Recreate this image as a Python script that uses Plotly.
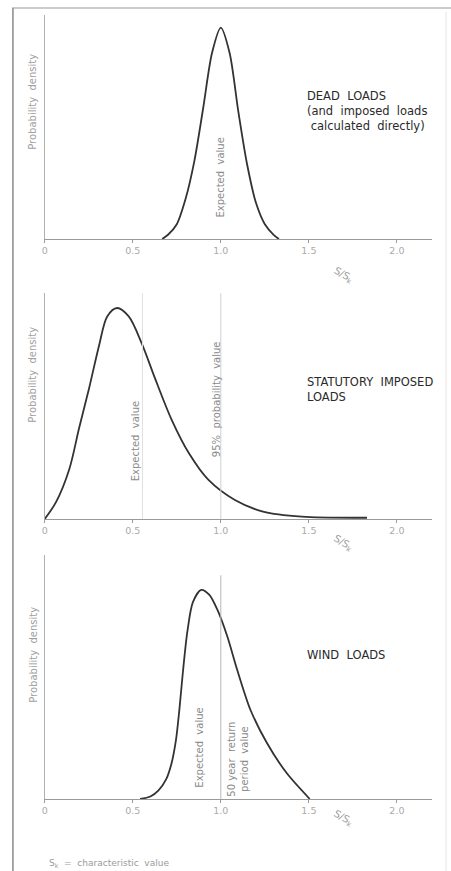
import plotly.graph_objects as go

W, H = 451, 871

# ---- data (relative probability density, peak = 1) ----
dead_x = [0.667, 0.70, 0.75, 0.80, 0.85, 0.90, 0.95, 1.00, 1.05, 1.10, 1.15, 1.20, 1.25, 1.30, 1.33]
dead_y = [0.0, 0.02, 0.07, 0.19, 0.37, 0.62, 0.88, 1.00, 0.88, 0.60, 0.35, 0.17, 0.07, 0.02, 0.0]

stat_x = [0.0, 0.064, 0.139, 0.195, 0.252, 0.308, 0.355, 0.411, 0.477, 0.552, 0.627, 0.721,
          0.82, 0.93, 1.08, 1.24, 1.46, 1.83]
stat_y = [0.0, 0.08, 0.235, 0.43, 0.62, 0.82, 0.96, 1.00, 0.96, 0.83, 0.665, 0.47,
          0.31, 0.185, 0.09, 0.035, 0.011, 0.006]

wind_x = [0.542, 0.600, 0.645, 0.690, 0.720, 0.745, 0.765, 0.785, 0.810, 0.841, 0.888, 0.935,
          0.981, 1.037, 1.093, 1.168, 1.262, 1.374, 1.505]
wind_y = [0.0, 0.012, 0.040, 0.095, 0.17, 0.28, 0.43, 0.61, 0.80, 0.94, 1.00, 0.976,
          0.904, 0.777, 0.618, 0.427, 0.268, 0.124, 0.0]

tick_vals = [0, 0.5, 1.0, 1.5, 2.0]
tick_text = ["0", "0.5", "1.0", "1.5", "2.0"]

panel_titles = ["DEAD  LOADS<br>(and  imposed  loads<br> calculated  directly)",
                "STATUTORY  IMPOSED<br>LOADS",
                "WIND  LOADS"]

# ---- layout helpers (pixels -> paper) ----
def px(x):
    return x / W

def py(y):
    return 1 - y / H

GRAY = "#9a9a9a"
DARK = "#333333"
FONT = "DejaVu Sans"

fig = go.Figure()
fig.add_trace(go.Scatter(x=dead_x, y=dead_y, mode="lines", xaxis="x", yaxis="y",
                         line=dict(color=DARK, width=1.8, shape="spline", smoothing=0.8)))
fig.add_trace(go.Scatter(x=stat_x, y=stat_y, mode="lines", xaxis="x2", yaxis="y2",
                         line=dict(color=DARK, width=1.8, shape="spline", smoothing=0.9)))
fig.add_trace(go.Scatter(x=wind_x, y=wind_y, mode="lines", xaxis="x3", yaxis="y3",
                         line=dict(color=DARK, width=1.8, shape="spline", smoothing=0.8)))

# panels: (baseline px, top px, y max)
panels = [(239, 15, 1.06), (519, 293, 1.071), (799, 555, 1.167)]
xdom = [px(42), px(432)]

layout = dict(width=W, height=H, margin=dict(l=0, r=0, t=0, b=0),
              paper_bgcolor="white", plot_bgcolor="white", showlegend=False)
for i, (base, top, ymax) in enumerate(panels):
    s = "" if i == 0 else str(i + 1)
    layout["xaxis" + s] = dict(domain=xdom, range=[0, 2.2], anchor="y" + s,
                               showline=True, linecolor=GRAY, linewidth=1,
                               ticks="outside", ticklen=3, tickcolor=GRAY,
                               tickvals=tick_vals, ticktext=tick_text,
                               tickfont=dict(size=9.5, color="#aaaaaa", family=FONT),
                               showgrid=False, zeroline=False, fixedrange=True)
    layout["yaxis" + s] = dict(domain=[py(base), py(top)], range=[0, ymax], anchor="x" + s,
                               showline=True, linecolor="#b0b0b0", linewidth=1,
                               showticklabels=False, ticks="", showgrid=False,
                               zeroline=False, fixedrange=True)
fig.update_layout(**layout)

shapes = []
# frame of the scanned page
shapes.append(dict(type="line", xref="paper", yref="paper", x0=px(10), x1=px(10),
                   y0=py(8), y1=py(871), line=dict(color="#8a8a8a", width=1.5)))
shapes.append(dict(type="line", xref="paper", yref="paper", x0=px(9), x1=px(451),
                   y0=py(8), y1=py(8), line=dict(color="#9a9a9a", width=1.2)))
shapes.append(dict(type="line", xref="paper", yref="paper", x0=px(446), x1=px(446),
                   y0=py(12), y1=py(871), line=dict(color="#e4e4e4", width=1)))
# reference lines
shapes.append(dict(type="line", xref="x2", yref="y2", x0=0.555, x1=0.555, y0=0, y1=1.07,
                   line=dict(color="#e0e0e0", width=1)))
shapes.append(dict(type="line", xref="x2", yref="y2", x0=1.0, x1=1.0, y0=0, y1=1.07,
                   line=dict(color="#d0d0d0", width=1)))
shapes.append(dict(type="line", xref="x3", yref="y3", x0=1.0, x1=1.0, y0=0, y1=1.07,
                   line=dict(color="#b8b8b8", width=1)))
fig.update_layout(shapes=shapes)

ann = []
def vtext(text, x, y, xref, yref, size=10, color="#8a8a8a"):
    ann.append(dict(text=text, x=x, y=y, xref=xref, yref=yref, showarrow=False,
                    textangle=-90, font=dict(size=size, color=color, family=FONT),
                    xanchor="center", yanchor="middle"))

# y-axis titles
vtext("Probability  density", px(30), py(102), "paper", "paper", size=10, color="#a0a0a0")
vtext("Probability  density", px(30), py(375), "paper", "paper", size=10, color="#a0a0a0")
vtext("Probability  density", px(30), py(655), "paper", "paper", size=10, color="#a0a0a0")

# reference-value labels
vtext("Expected  value", 1.0, 0.29, "x", "y")
vtext("Expected  value", 0.52, 0.37, "x2", "y2")
vtext("95%  probability  value", 0.975, 0.57, "x2", "y2")
vtext("Expected  value", 0.88, 0.244, "x3", "y3")
vtext("50 year  return<br>period  value", 1.10, 0.19, "x3", "y3")

# panel titles
for (base, top, ymax), t, ty in zip(panels, panel_titles, [111, 390, 655]):
    ann.append(dict(text=t, x=px(304), y=py(ty), xref="paper", yref="paper",
                    showarrow=False, align="left", xanchor="left", yanchor="middle",
                    font=dict(size=11.5, color="#2a2a2a", family=FONT)))

# S/Sk labels
for cy in [262, 543, 832]:
    ann.append(dict(text="S/S<sub>k</sub>", x=px(358), y=py(cy), xref="paper", yref="paper",
                    showarrow=False, textangle=30,
                    font=dict(size=10, color="#9a9a9a", family=FONT)))

ann.append(dict(text="S<sub>k</sub>  =  characteristic  value", x=px(44), y=py(863),
                xref="paper", yref="paper", showarrow=False, xanchor="left",
                yanchor="middle", font=dict(size=9, color="#9a9a9a", family=FONT)))

fig.update_layout(annotations=ann)
fig.write_html("out.html", config={"displayModeBar": False},
               post_script="document.body.style.margin='0';document.body.style.overflow='hidden';")
